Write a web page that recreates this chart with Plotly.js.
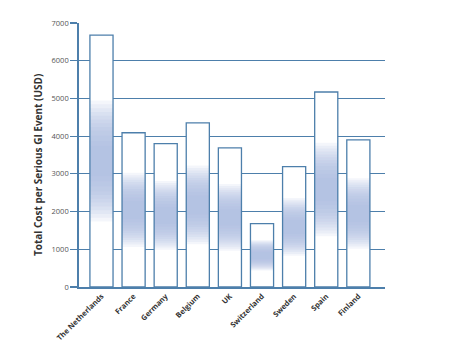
<!DOCTYPE html>
<html><head><meta charset="utf-8">
<script src="https://cdn.plot.ly/plotly-3.0.1.min.js"></script>
<style>html,body{margin:0;padding:0;background:#fff}#c{width:450px;height:361px}</style>
</head><body><div id="c"></div>
<script>
const countries = ["The Netherlands","France","Germany","Belgium","UK","Switzerland","Sweden","Spain","Finland"];
const costs = [6680, 4090, 3800, 4350, 3690, 1680, 3190, 5170, 3900];
const yTicks = [0,1000,2000,3000,4000,5000,6000,7000];

const lineCol = '#4d7fab';
const W = 0.72;
const traces = [];
traces.push({type:'bar', x:countries, y:costs, width:W,
  marker:{color:'#ffffff', line:{width:0}}, hoverinfo:'skip'});
// soft band (decorative gradient) layered around the middle of each bar
const halfFracs = [0.06,0.08,0.10,0.12,0.135,0.15,0.165,0.18,0.195,0.21,0.225,0.24];
halfFracs.forEach(f=>{
  traces.push({type:'bar', x:countries, y:costs.map(v=>v*2*f), base:costs.map(v=>v*(0.5-f)),
    width:W, marker:{color:'rgba(165,183,220,0.12)', line:{width:0}}, hoverinfo:'skip'});
});
traces.push({type:'bar', x:countries, y:costs, width:W,
  marker:{color:'rgba(0,0,0,0)', line:{color:lineCol, width:1.3}}, hoverinfo:'skip'});

const layout = {
  width:450, height:361, showlegend:false, barmode:'overlay',
  paper_bgcolor:'#fff', plot_bgcolor:'#fff',
  margin:{l:79, r:65, t:23, b:74},
  font:{family:'Open Sans, Noto Sans, sans-serif', color:'#333'},
  xaxis:{type:'category', range:[-0.7,8.83], showline:true, linecolor:lineCol, linewidth:2,
    ticks:'', tickangle:-45, tickfont:{size:7.5, color:'#333', family:'Open Sans, sans-serif', weight:'bold'},
    showgrid:false, zeroline:false, fixedrange:true},
  yaxis:{range:[0,7000], tickvals:yTicks, ticktext:yTicks.map(String), showline:true, linecolor:lineCol, linewidth:1.8,
    ticks:'outside', ticklen:7, tickcolor:lineCol, tickwidth:1.2,
    showgrid:true, gridcolor:lineCol, gridwidth:1.1, zeroline:false,
    tickfont:{size:7.5, color:'#555'}},
  annotations:[{text:'Total Cost per Serious GI Event (USD)', textangle:-90, xref:'paper', yref:'paper',
    x:-0.134, y:0.462, xanchor:'center', yanchor:'middle', showarrow:false,
    font:{size:10, color:'#333', weight:'bold'}}]
};
Plotly.newPlot('c', traces, layout, {staticPlot:true});
</script></body></html>
